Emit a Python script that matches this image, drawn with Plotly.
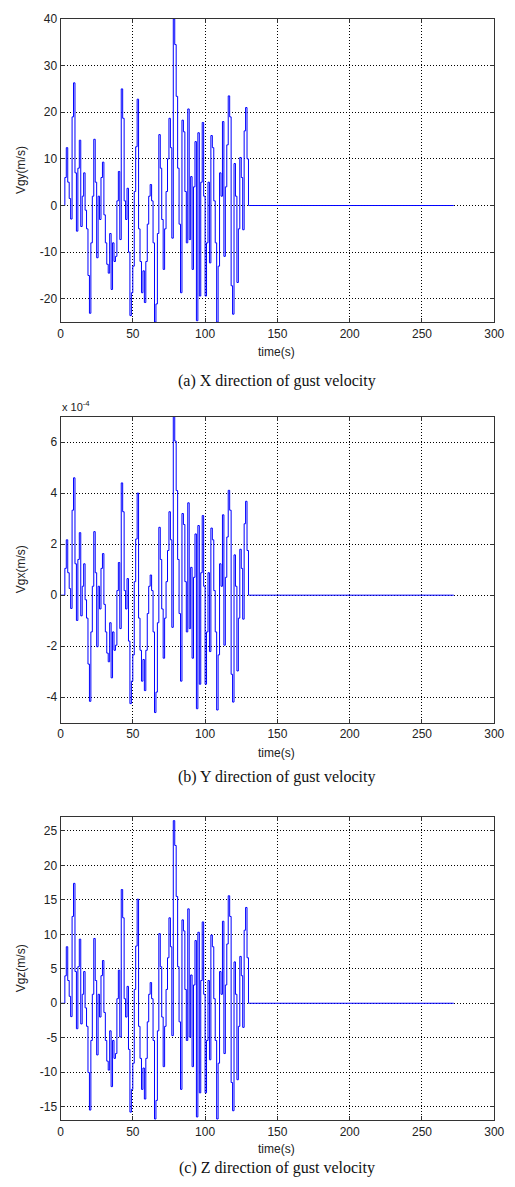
import plotly.graph_objects as go

# ---------------- data ----------------
t_active = list(range(0, 132))          # seconds, 1 s samples
t_end = [272]
time_s = t_active + t_end

vgy = [0, 0, 0, 6, 12.4, 5, 1.5, -2.9, 19, 26.3,
       7, -5.5, 8, 14, -4.5, 2, 7, -1, -5, -15,
       -23.1, -8, 2, 14.2, 5, -11.2, 2, -3, 6, 9.3,
       -2, -8, -12.6, -14.5, -6, -18, -8, -12, -10.9, 1,
       7.3, -7.3, 25, 18.7, 1, -3, 3.7, -10, -23.6, -18.7,
       -13, 3, 12.6, 22.8, -5, -12, -18.7, -14, -20.8, -12,
       -4, 2, 4.5, 1, -8, -25, -21.1, -6, 15.2, 8,
       -3, -13.7, -5, 3, 10, 18.7, 12.4, -7, 40, 34.5,
       23.4, 8, -4, -18.7, 18.3, 15.8, 3, -8, 20.7, -7.3,
       6.2, -13.7, 4, 13.7, -24.7, 15.6, -19.4, 5, 17.8, 2,
       -19.4, -8, 5, -12.3, 15, 12.4, 1, -8, -25, -13,
       7, 2, 18, -10.9, 4, 13, 23.5, 19, -17.2, -23.3,
       9, 2, -16.5, -5, 10.3, 6, -5.2, 16, 21, 10,
       0, 0, 0]

vgx = [0, 0, 0, 1.05e-4, 2.17e-4, 0.88e-4, 0.26e-4, -0.52e-4, 3.33e-4, 4.6e-4,
       1.23e-4, -0.99e-4, 1.4e-4, 2.45e-4, -0.81e-4, 0.35e-4, 1.23e-4, -0.18e-4, -0.9e-4, -2.7e-4,
       -4.16e-4, -1.44e-4, 0.35e-4, 2.49e-4, 0.88e-4, -2.02e-4, 0.35e-4, -0.54e-4, 1.05e-4, 1.63e-4,
       -0.36e-4, -1.44e-4, -2.27e-4, -2.61e-4, -1.08e-4, -3.24e-4, -1.44e-4, -2.16e-4, -1.96e-4, 0.18e-4,
       1.28e-4, -1.31e-4, 4.4e-4, 3.27e-4, 0.18e-4, -0.54e-4, 0.65e-4, -1.8e-4, -4.25e-4, -3.37e-4,
       -2.34e-4, 0.53e-4, 2.2e-4, 4.0e-4, -0.9e-4, -2.16e-4, -3.37e-4, -2.52e-4, -3.74e-4, -2.16e-4,
       -0.72e-4, 0.35e-4, 0.79e-4, 0.18e-4, -1.44e-4, -4.6e-4, -3.8e-4, -1.08e-4, 2.66e-4, 1.4e-4,
       -0.54e-4, -2.47e-4, -0.9e-4, 0.53e-4, 1.75e-4, 3.27e-4, 2.17e-4, -1.26e-4, 7.0e-4, 6.04e-4,
       4.1e-4, 1.4e-4, -0.72e-4, -3.37e-4, 3.2e-4, 2.77e-4, 0.53e-4, -1.44e-4, 3.62e-4, -1.31e-4,
       1.09e-4, -2.47e-4, 0.7e-4, 2.4e-4, -4.45e-4, 2.73e-4, -3.49e-4, 0.88e-4, 3.12e-4, 0.35e-4,
       -3.49e-4, -1.44e-4, 0.88e-4, -2.21e-4, 2.63e-4, 2.17e-4, 0.18e-4, -1.44e-4, -4.5e-4, -2.34e-4,
       1.23e-4, 0.35e-4, 3.15e-4, -1.96e-4, 0.7e-4, 2.28e-4, 4.11e-4, 3.33e-4, -3.1e-4, -4.19e-4,
       1.58e-4, 0.35e-4, -2.97e-4, -0.9e-4, 1.8e-4, 1.05e-4, -0.94e-4, 2.8e-4, 3.68e-4, 1.75e-4,
       0, 0, 0]

vgz = [0, 0, 0, 3.98, 8.2, 3.3, 1.0, -1.94, 12.6, 17.4,
       4.6, -3.7, 5.3, 9.3, -3.0, 1.3, 4.6, -0.67, -3.35, -10.05,
       -15.5, -5.4, 1.3, 9.4, 3.3, -7.5, 1.3, -2.0, 4.0, 6.2,
       -1.34, -5.4, -8.4, -9.7, -4.0, -12.1, -5.4, -8.0, -7.3, 0.66,
       4.8, -4.9, 16.5, 12.4, 0.66, -2.0, 2.45, -6.7, -15.8, -12.5,
       -8.7, 2.0, 8.3, 15.1, -3.35, -8.0, -12.5, -9.4, -13.9, -8.0,
       -2.7, 1.3, 3.0, 0.66, -5.4, -16.8, -14.1, -4.0, 10.1, 5.3,
       -2.0, -9.2, -3.35, 2.0, 6.6, 12.4, 8.2, -4.7, 26.5, 22.9,
       15.5, 5.3, -2.7, -12.5, 12.1, 10.5, 2.0, -5.4, 13.7, -4.9,
       4.1, -9.2, 2.65, 9.1, -16.5, 10.3, -13.0, 3.3, 11.8, 1.3,
       -13.0, -5.4, 3.3, -8.2, 9.9, 8.2, 0.66, -5.4, -16.8, -8.7,
       4.6, 1.3, 11.9, -7.3, 2.65, 8.6, 15.6, 12.6, -11.5, -15.6,
       6.0, 1.3, -11.1, -3.35, 6.8, 4.0, -3.5, 10.6, 13.9, 6.6,
       0, 0, 0]

x_ticks = [0, 50, 100, 150, 200, 250, 300]
y1_ticks = [-20, -10, 0, 10, 20, 30, 40]
y2_ticks = [-4e-4, -2e-4, 0, 2e-4, 4e-4, 6e-4]
y2_ticktext = ["-4", "-2", "0", "2", "4", "6"]
y3_ticks = [-15, -10, -5, 0, 5, 10, 15, 20, 25]

y_labels = ["Vgy(m/s)", "Vgx(m/s)", "Vgz(m/s)"]
x_label = "time(s)"
captions = ["(a) X direction of gust velocity",
            "(b) Y direction of gust velocity",
            "(c) Z direction of gust velocity"]

# ---------------- layout geometry ----------------
W, H = 515, 1187
def py(p):
    return 1 - p / H

xdom = [59 / W, 504 / W]
plots = [(12, 317), (412, 720), (815, 1120)]

fig = go.Figure()
series = [vgy, vgx, vgz]
for i, s in enumerate(series):
    fig.add_trace(go.Scatter(
        x=time_s, y=s, mode="lines", line=dict(color="#0000FF", width=1, shape="hv"),
        xaxis="x" if i == 0 else f"x{i+1}", yaxis="y" if i == 0 else f"y{i+1}",
        showlegend=False, hoverinfo="skip"))

tickfont = dict(family="Liberation Sans, Arial, sans-serif", size=12, color="#222")
common_axis = dict(showline=True, linecolor="#333", linewidth=1, mirror="ticks",
                   ticks="inside", ticklen=4, tickcolor="#333",
                   showgrid=True, gridcolor="#000", griddash="1px,2px", gridwidth=1,
                   zeroline=False, tickfont=tickfont)

layout = dict(width=W, height=H, margin=dict(l=0, r=0, t=0, b=0),
              paper_bgcolor="white", plot_bgcolor="white")
yranges = [[-25, 40], [-5e-4, 7e-4], [-17, 27]]
yticks = [(y1_ticks, [str(v) for v in y1_ticks]), (y2_ticks, y2_ticktext),
          (y3_ticks, [str(v) for v in y3_ticks])]
for i, (top, bot) in enumerate(plots):
    xk = "xaxis" if i == 0 else f"xaxis{i+1}"
    yk = "yaxis" if i == 0 else f"yaxis{i+1}"
    ya = "y" if i == 0 else f"y{i+1}"
    xa = "x" if i == 0 else f"x{i+1}"
    layout[xk] = dict(domain=xdom, anchor=ya, range=[0, 300], tickvals=x_ticks,
                      ticktext=[str(v) for v in x_ticks], **common_axis)
    layout[yk] = dict(domain=[py(bot), py(top)], anchor=xa, range=yranges[i],
                      tickvals=yticks[i][0], ticktext=yticks[i][1], **common_axis)
fig.update_layout(**layout)

labfont = dict(family="Liberation Sans, Arial, sans-serif", size=12, color="#222")
capfont = dict(family="Liberation Serif, Times New Roman, serif", size=16, color="#111")
xlab_y = [347, 750, 1149]
cap_y = [376, 775, 1168]
for i, (top, bot) in enumerate(plots):
    fig.add_annotation(text=y_labels[i], x=18 / W, y=py((top + bot) / 2), xref="paper", yref="paper",
                       textangle=-90, showarrow=False, font=labfont, xanchor="center", yanchor="middle")
    fig.add_annotation(text=x_label, x=281 / W, y=py(xlab_y[i]), xref="paper", yref="paper",
                       showarrow=False, font=labfont, xanchor="center", yanchor="middle")
    fig.add_annotation(text=captions[i], x=281 / W, y=py(cap_y[i]), xref="paper", yref="paper",
                       showarrow=False, font=capfont, xanchor="center", yanchor="middle")
fig.add_annotation(text="x 10<sup>-4</sup>", x=58 / W, y=py(401), xref="paper", yref="paper",
                   showarrow=False, font=dict(family="Liberation Sans, Arial, sans-serif", size=11, color="#222"),
                   xanchor="left", yanchor="middle")

fig.write_html("out.html")
